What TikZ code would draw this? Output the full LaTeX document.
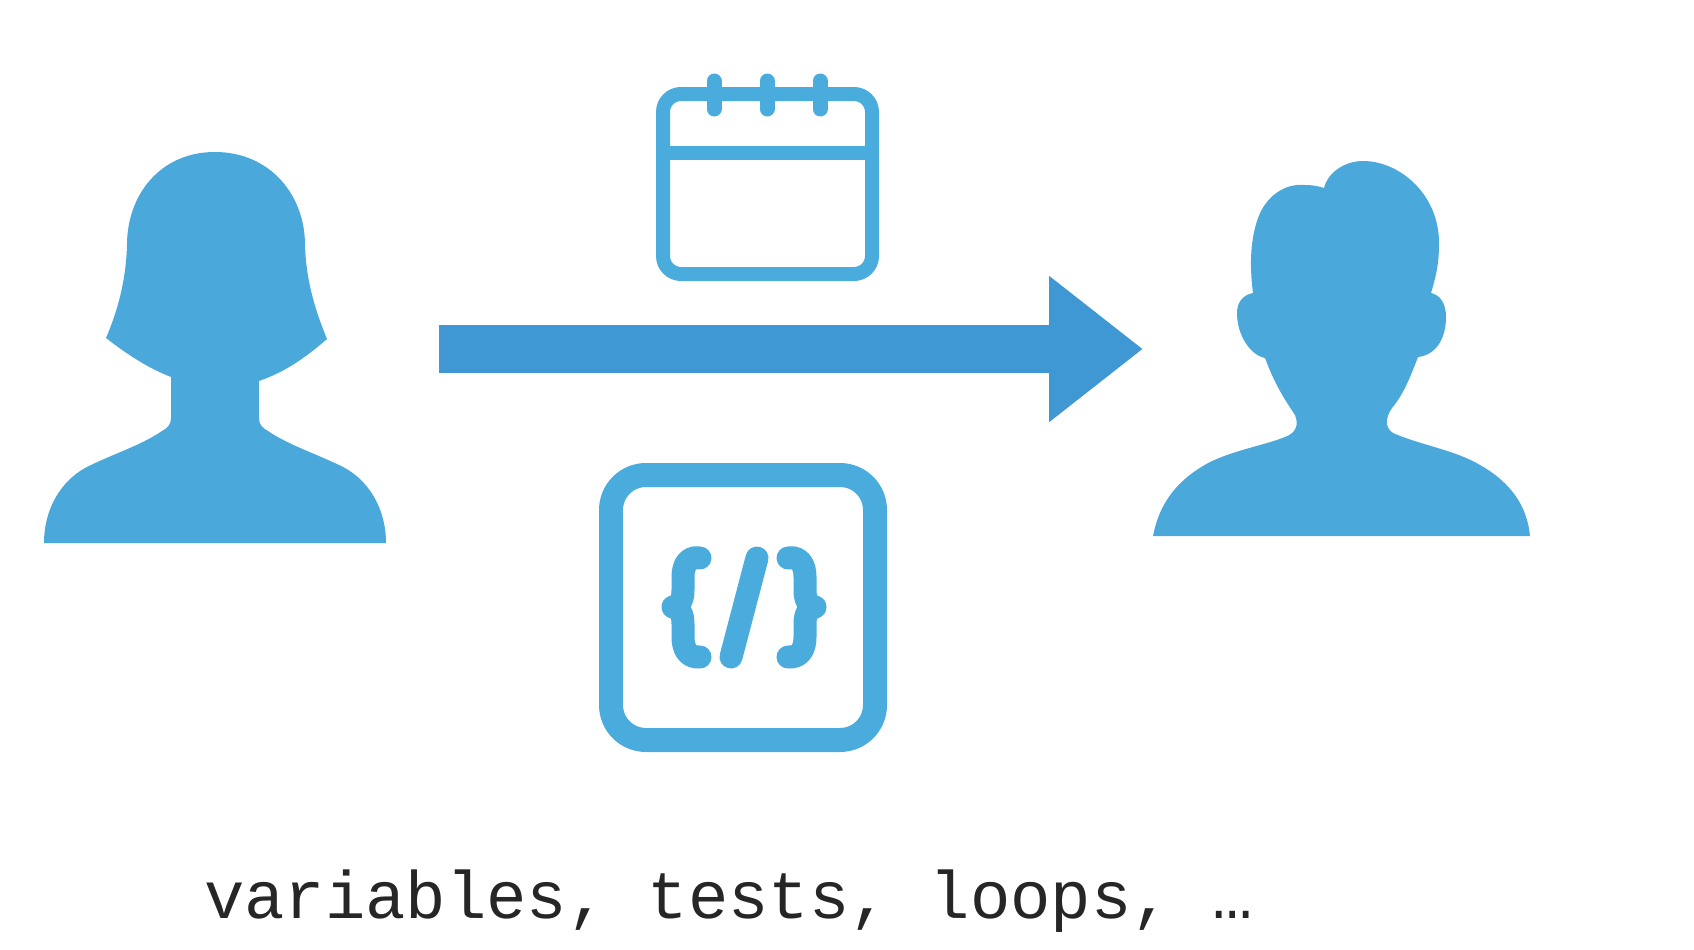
\documentclass[tikz,border=0pt]{standalone}
\usepackage{fontspec}
\newfontfamily\codefont{Liberation Mono}
\usetikzlibrary{arrows.meta,positioning}
\definecolor{figure blue}{HTML}{4BA8DA}
\definecolor{arrow blue}{HTML}{3F98D3}
\definecolor{icon blue}{HTML}{4AABDD}

\begin{document}
\begin{tikzpicture}
%defines
  [x=1pt,y=-1pt,
silhouette/.style={fill=figure blue,draw=none},
icon/.style={draw=icon blue,line cap=round,line join=round},
big arrow/.style={draw=arrow blue,line width=48pt,
-{Triangle[length=94pt,width=140pt,color=arrow blue]}},
caption/.style={inner sep=0pt,anchor=base west,text=black!85,
font=\codefont\fontsize{67.2}{80}\selectfont}]
\useasboundingbox (0,0) rectangle (1694,950);
%sender
\path[silhouette] (215,152) .. controls (270,152) and (305,195) .. (305,245)
  .. controls (306,280) and (315,310) .. (327,339)
  .. controls (305,358) and (285,372) .. (259,381) -- (259,418)
  .. controls (259,424) and (262,428) .. (268,431)
  .. controls (290,446) and (320,455) .. (345,468)
  .. controls (370,482) and (386,510) .. (386,543) -- (44,543)
  .. controls (44,510) and (60,482) .. (85,468)
  .. controls (110,455) and (140,446) .. (162,431)
  .. controls (168,428) and (171,424) .. (171,418) -- (171,377)
  .. controls (148,368) and (128,355) .. (106,338)
  .. controls (118,310) and (126,280) .. (127,245)
  .. controls (127,195) and (160,152) .. (215,152) -- cycle;
%receiver
\path[silhouette] (1153,536) .. controls (1160,500) and (1180,478) .. (1210,462)
  .. controls (1235,450) and (1265,445) .. (1285,437)
  .. controls (1296,433) and (1299,425) .. (1295,415)
  .. controls (1285,400) and (1275,385) .. (1265,358)
  .. controls (1250,355) and (1237,335) .. (1237,313)
  .. controls (1237,302) and (1243,295) .. (1253,293)
  .. controls (1249,262) and (1251,238) .. (1258,218)
  .. controls (1266,196) and (1285,183) .. (1305,185)
  .. controls (1312,185) and (1318,186) .. (1324,188)
  .. controls (1328,172) and (1345,161) .. (1363,161)
  .. controls (1400,161) and (1440,195) .. (1439,245)
  .. controls (1439,265) and (1435,280) .. (1431,293)
  .. controls (1440,295) and (1446,303) .. (1446,317)
  .. controls (1446,340) and (1435,355) .. (1418,357)
  .. controls (1410,378) and (1403,395) .. (1392,408)
  .. controls (1385,418) and (1385,428) .. (1393,433)
  .. controls (1420,445) and (1455,450) .. (1480,465)
  .. controls (1510,482) and (1527,505) .. (1530,536) -- cycle;
%calendar
\draw[icon,line width=14pt,rounded corners=18pt] (663,94) rectangle (872,274);
\draw[icon,line width=14pt] (663,153) -- (872,153);
\foreach \peg in {714,767,820}
  \draw[icon,line width=15pt] (\peg,81) -- (\peg,109);
%code box
\draw[icon,line width=24pt,rounded corners=35pt] (611,475) rectangle (875,740);
\foreach \side in {1,-1}
  \draw[icon,line width=23pt,xshift=744pt,x=\side pt]
    (-44,558) .. controls (-56,556) and (-61,565) .. (-61,577) -- (-61,590)
    .. controls (-61,600) and (-64,605) .. (-71,607)
    .. controls (-64,609) and (-61,614) .. (-61,624) -- (-61,637)
    .. controls (-61,649) and (-56,658) .. (-44,657);
\draw[icon,line width=23pt] (757,558) -- (731,657);
%nodes
\coordinate (arrow start) at (439,349);
\coordinate (arrow end) at (1143,349);
\node[caption] (topics) at (204,918) {variables, tests, loops, …};
%links
\draw[big arrow] (arrow start) -- (arrow end);
\end{tikzpicture}
\end{document}
